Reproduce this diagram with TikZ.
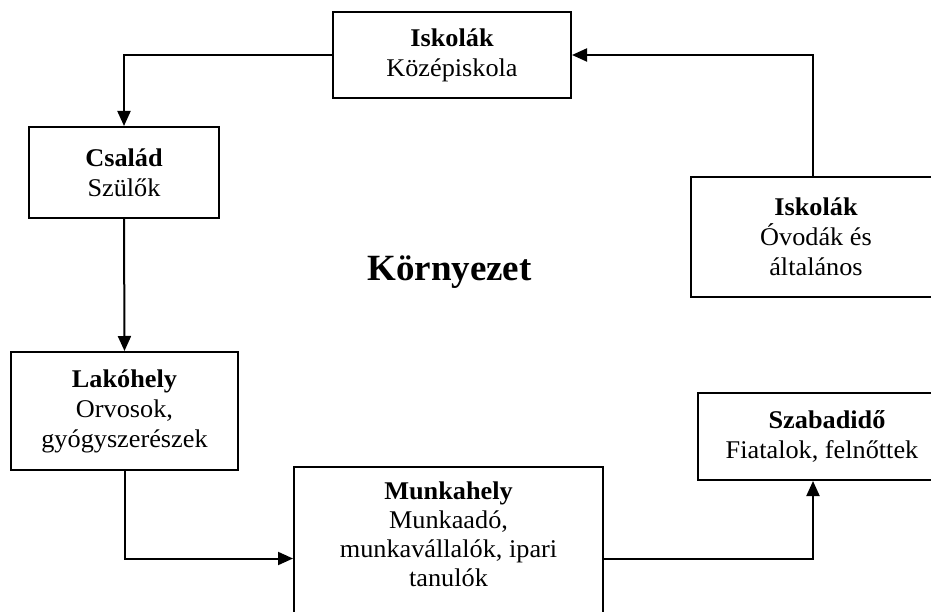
\documentclass[tikz,border=0pt]{standalone}
\usepackage{fontspec}
\setmainfont{Liberation Serif}[FakeStretch=1.03]
\newfontfamily\kfont{Liberation Serif}
\usetikzlibrary{arrows.meta}
\tikzset{
  box/.style={draw=black, line width=2pt, inner sep=0pt, align=center,
    font=\fontsize{25.5}{30}\selectfont},
  conn/.style={line width=2pt, -{Triangle[length=15pt,width=13pt]}},
  txt/.style={align=center, inner sep=0pt, font=\fontsize{25.5}{29}\selectfont}
}
\begin{document}
\begin{tikzpicture}[x=1pt,y=-1pt]
\fill[white] (0,0) rectangle (931,612);
\clip (0,0) rectangle (931,612);
\node[box, minimum width=238pt, minimum height=86pt] (isk2) at (452,55)
  {\textbf{Iskolák}\\Középiskola};
\node[box, minimum width=190pt, minimum height=91pt] (csal) at (124,172.5)
  {\textbf{Család}\\Szülők};
\node[box, minimum width=244pt, minimum height=120pt] (ovoda) at (813,237)
  {\hspace*{6pt}\textbf{Iskolák}\\\hspace*{6pt}Óvodák és\\\hspace*{6pt}általános};
\node[box, minimum width=227pt, minimum height=118pt] (lako) at (124.5,411)
  {\textbf{Lakóhely}\\Orvosok,\\gyógyszerészek};
\node[box, minimum width=309pt, minimum height=183pt] (munka) at (448.5,558.5) {};
\node[txt, anchor=north] (munkatxt) at (448.5,482)
  {\textbf{Munkahely}\\Munkaadó,\\munkavállalók, ipari\\tanulók};
\node[box, minimum width=248pt, minimum height=87pt] (szab) at (822,436.5)
  {\hspace*{10pt}\textbf{Szabadidő}\\Fiatalok, felnőttek};
\node[anchor=base, inner sep=0pt, font=\kfont\bfseries\fontsize{37}{40}\selectfont] (korny) at (449.5,280) {Környezet};
\draw[conn] (isk2.west) -| (csal.north);
\draw[conn] (ovoda.north) |- (isk2.east);
\draw[conn] (csal.south) -- (lako.north);
\draw[conn] (lako.south) |- (munka.west);
\draw[conn] (munka.east) -| ([xshift=-9pt]szab.south);
\end{tikzpicture}
\end{document}
